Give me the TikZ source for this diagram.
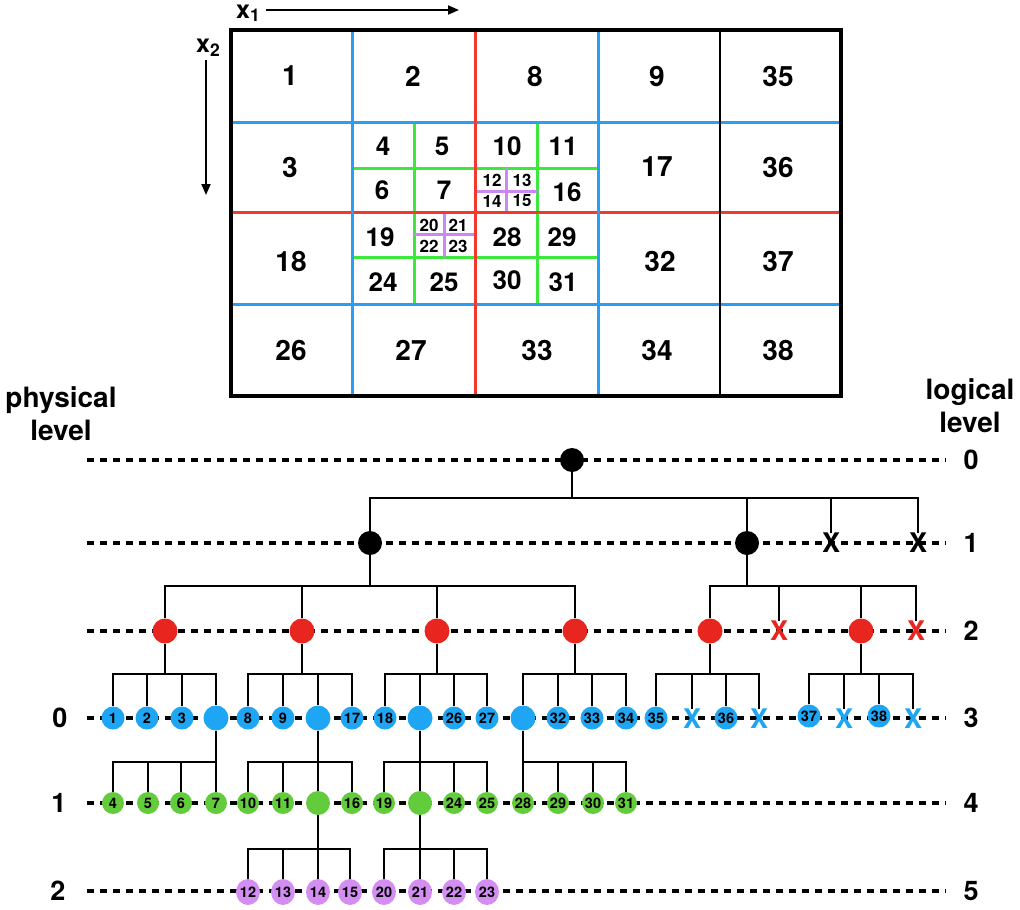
\documentclass[tikz,border=0pt]{standalone}
\usepackage{fontspec}
\setmainfont{TeX Gyre Heros}
\usetikzlibrary{arrows.meta,shapes.geometric}
\definecolor{nblue}{HTML}{1EA6F4}
\definecolor{nred}{HTML}{E8251F}
\definecolor{ngreen}{HTML}{62CC3C}
\definecolor{npurple}{HTML}{D48EF2}
\definecolor{gblue}{HTML}{2A9DF4}
\definecolor{gred}{HTML}{F2392E}
\definecolor{ggreen}{HTML}{3DE83D}
\definecolor{gpurple}{HTML}{CC88F0}
\newcommand\fs[1]{\fontsize{#1}{#1}\selectfont\bfseries}
\newcommand\tgrp[6]{%
  \draw[conn] (#1) -- (#1 |- 0,#6);
  \draw[conn] (#2) -- (#2 |- 0,#6) -- (#5 |- 0,#6) -- (#5);
  \draw[conn] (#3 |- 0,#6) -- (#3);
  \draw[conn] (#4 |- 0,#6) -- (#4);
}
\begin{document}
\begin{tikzpicture}[x=1pt,y=-1pt,
  gline/.style={line width=3pt},
  cellbig/.style={inner sep=0pt,font=\fs{28}},
  cellmid/.style={inner sep=0pt,font=\fs{26}},
  cellsm/.style={inner sep=0pt,font=\fs{17}},
  lev/.style={line width=3.5pt,dash pattern=on 7pt off 6pt},
  conn/.style={line width=2.5pt,line join=miter},
  tn/.style={circle,inner sep=0pt,minimum size=23pt,font=\fs{14.5}},
  blknode/.style={tn,fill=black,minimum size=24pt},
  rednode/.style={tn,fill=nred,minimum size=25pt},
  blunode/.style={tn,fill=nblue},
  bigblu/.style={tn,fill=nblue,minimum size=25pt},
  grnnode/.style={tn,fill=ngreen,minimum size=22pt},
  biggrn/.style={tn,fill=ngreen,minimum size=24pt},
  purnode/.style={ellipse,inner sep=0pt,minimum width=24pt,minimum height=26pt,fill=npurple,font=\fs{14.5}},
  xmark/.style={inner sep=0pt,font=\fs{27}},
  levlab/.style={inner sep=0pt,font=\fs{27}},
  sidelab/.style={align=center,inner sep=0pt,font=\fontsize{28}{33}\selectfont\bfseries},
  axarrow/.style={line width=2pt,-{Triangle[length=11pt,width=9pt]}}
]
\useasboundingbox (0,0) rectangle (1020,910);

% ---------- grid ----------
\draw[gline,ggreen] (414,122) -- (414,304);
\draw[gline,ggreen] (537,122) -- (537,304);
\draw[gline,ggreen] (352,168) -- (598,168);
\draw[gline,ggreen] (352,257) -- (598,257);
\draw[gline,gpurple] (506,168) -- (506,212);
\draw[gline,gpurple] (475,191) -- (537,191);
\draw[gline,gpurple] (444,212) -- (444,257);
\draw[gline,gpurple] (414,234) -- (475,234);
\draw[gline,gblue] (231,122) -- (841,122);
\draw[gline,gblue] (231,304) -- (841,304);
\draw[gline,gred] (231,212) -- (841,212);
\draw[gline,gblue] (352,30) -- (352,396);
\draw[gline,gblue] (598,30) -- (598,396);
\draw[gline,gred] (475,30) -- (475,396);
\draw[line width=2.8pt] (720,30) -- (720,396);
\draw[line width=3.2pt] (231,30) rectangle (841,396);

% cell labels
\node[cellbig] (c1) at (290,76) {1};
\node[cellbig] (c2) at (413,76) {2};
\node[cellbig] (c8) at (535,76) {8};
\node[cellbig] (c9) at (657,76) {9};
\node[cellbig] (c35) at (778,76) {35};
\node[cellbig] (c3) at (290,167) {3};
\node[cellbig] (c17) at (657,167) {17};
\node[cellbig] (c36) at (778,167) {36};
\node[cellbig] (c18) at (291,261) {18};
\node[cellbig] (c32) at (660,261) {32};
\node[cellbig] (c37) at (778,261) {37};
\node[cellbig] (c26) at (291,350) {26};
\node[cellbig] (c27) at (411,350) {27};
\node[cellbig] (c33) at (537,350) {33};
\node[cellbig] (c34) at (657,350) {34};
\node[cellbig] (c38) at (778,350) {38};
\node[cellmid] (c4) at (383,146) {4};
\node[cellmid] (c5) at (442,146) {5};
\node[cellmid] (c10) at (507,146) {10};
\node[cellmid] (c11) at (563,146) {11};
\node[cellmid] (c6) at (382,190) {6};
\node[cellmid] (c7) at (444,190) {7};
\node[cellmid] (c16) at (567,192) {16};
\node[cellmid] (c19) at (380,237) {19};
\node[cellmid] (c28) at (507,237) {28};
\node[cellmid] (c29) at (562,237) {29};
\node[cellmid] (c24) at (383,282) {24};
\node[cellmid] (c25) at (444,282) {25};
\node[cellmid] (c30) at (507,280) {30};
\node[cellmid] (c31) at (563,282) {31};
\node[cellsm] (c12) at (492,180) {12};
\node[cellsm] (c13) at (522,180) {13};
\node[cellsm] (c14) at (492,201) {14};
\node[cellsm] (c15) at (522,201) {15};
\node[cellsm] (c20) at (429,225) {20};
\node[cellsm] (c21) at (458,225) {21};
\node[cellsm] (c22) at (429,246) {22};
\node[cellsm] (c23) at (458,246) {23};

% axes
\node[inner sep=0pt,font=\fontsize{25}{25}\selectfont\bfseries,anchor=base west] (x1) at (236,18) {x\textsubscript{1}};
\coordinate (x1end) at (459,10);
\draw[axarrow] (x1.east |- x1end) ++(5,0) -- (x1end);
\node[inner sep=0pt,font=\fontsize{25}{25}\selectfont\bfseries,anchor=base west] (x2) at (196,52) {x\textsubscript{2}};
\coordinate (x2start) at (206,60);
\coordinate (x2end) at (206,195);
\draw[axarrow] (x2start) -- (x2end);

% side labels
\node[sidelab] (phys) at (61,414) {physical\\level};
\node[sidelab] (logi) at (970,406) {logical\\level};

% level lines
\foreach \y/\n in {460/0,543/1,631/2,718/3,803/4,891/5}{
  \coordinate (ls\n) at (87,\y);
  \coordinate (le\n) at (946,\y);
  \draw[lev] (ls\n) -- (le\n);
  \node[levlab] (rl\n) at (971,\y) {\n};
}
\node[levlab] (pl0) at (60,718) {0};
\node[levlab] (pl1) at (59,803) {1};
\node[levlab] (pl2) at (58,891) {2};

% ---------- tree nodes ----------
\node[blknode] (r) at (572,460) {};
\node[blknode] (a1) at (370,543) {};
\node[blknode] (a2) at (747,543) {};
\node[xmark] (ax1) at (831,543) {X};
\node[xmark] (ax2) at (918,543) {X};

\node[rednode] (b1) at (165,631) {};
\node[rednode] (b2) at (302,631) {};
\node[rednode] (b3) at (437,631) {};
\node[rednode] (b4) at (575,631) {};
\node[rednode] (b5) at (710,631) {};
\node[xmark,text=nred] (bx1) at (779,631) {X};
\node[rednode] (b6) at (861,631) {};
\node[xmark,text=nred] (bx2) at (916,631) {X};

\node[blunode] (n1) at (113,718) {1};
\node[blunode] (n2) at (147,718) {2};
\node[blunode] (n3) at (182,718) {3};
\node[bigblu] (u1) at (216,718) {};
\node[blunode] (n8) at (248,718) {8};
\node[blunode] (n9) at (283,718) {9};
\node[bigblu] (u2) at (318,718) {};
\node[blunode] (n17) at (352,718) {17};
\node[blunode] (n18) at (385,718) {18};
\node[bigblu] (u3) at (420,718) {};
\node[blunode] (n26) at (454,718) {26};
\node[blunode] (n27) at (487,718) {27};
\node[bigblu] (u4) at (523,718) {};
\node[blunode] (n32) at (558,718) {32};
\node[blunode] (n33) at (592,718) {33};
\node[blunode] (n34) at (626,718) {34};
\node[blunode] (n35) at (656,718) {35};
\node[xmark,text=nblue] (xa) at (692,719) {X};
\node[blunode] (n36) at (726,718) {36};
\node[xmark,text=nblue] (xb) at (759,719) {X};
\node[blunode] (n37) at (809,716) {37};
\node[xmark,text=nblue] (xc) at (844,719) {X};
\node[blunode] (n38) at (879,716) {38};
\node[xmark,text=nblue] (xd) at (913,719) {X};

\node[grnnode] (n4) at (113,803) {4};
\node[grnnode] (n5) at (148,803) {5};
\node[grnnode] (n6) at (181,803) {6};
\node[grnnode] (n7) at (216,803) {7};
\node[grnnode] (n10) at (248,803) {10};
\node[grnnode] (n11) at (283,803) {11};
\node[biggrn] (v1) at (318,803) {};
\node[grnnode] (n16) at (352,803) {16};
\node[grnnode] (n19) at (384,803) {19};
\node[biggrn] (v2) at (420,803) {};
\node[grnnode] (n24) at (454,803) {24};
\node[grnnode] (n25) at (487,803) {25};
\node[grnnode] (n28) at (523,803) {28};
\node[grnnode] (n29) at (558,803) {29};
\node[grnnode] (n30) at (593,803) {30};
\node[grnnode] (n31) at (626,803) {31};

\node[purnode] (n12) at (248,892) {12};
\node[purnode] (n13) at (283,892) {13};
\node[purnode] (n14) at (318,892) {14};
\node[purnode] (n15) at (350,892) {15};
\node[purnode] (n20) at (384,892) {20};
\node[purnode] (n21) at (420,892) {21};
\node[purnode] (n22) at (454,892) {22};
\node[purnode] (n23) at (487,892) {23};

% ---------- connectors ----------
\tgrp{r}{a1}{a2}{ax1}{ax2}{498}
\tgrp{a1}{b1}{b2}{b3}{b4}{586}
\tgrp{a2}{b5}{bx1}{b6}{bx2}{586}
\tgrp{b1}{n1}{n2}{n3}{u1}{674}
\tgrp{b2}{n8}{n9}{u2}{n17}{674}
\tgrp{b3}{n18}{u3}{n26}{n27}{674}
\tgrp{b4}{u4}{n32}{n33}{n34}{674}
\tgrp{b5}{n35}{xa}{n36}{xb}{674}
\tgrp{b6}{n37}{xc}{n38}{xd}{674}
\tgrp{u1}{n4}{n5}{n6}{n7}{762}
\tgrp{u2}{n10}{n11}{v1}{n16}{762}
\tgrp{u3}{n19}{v2}{n24}{n25}{762}
\tgrp{u4}{n28}{n29}{n30}{n31}{762}
\tgrp{v1}{n12}{n13}{n14}{n15}{849}
\tgrp{v2}{n20}{n21}{n22}{n23}{849}
\end{tikzpicture}
\end{document}
